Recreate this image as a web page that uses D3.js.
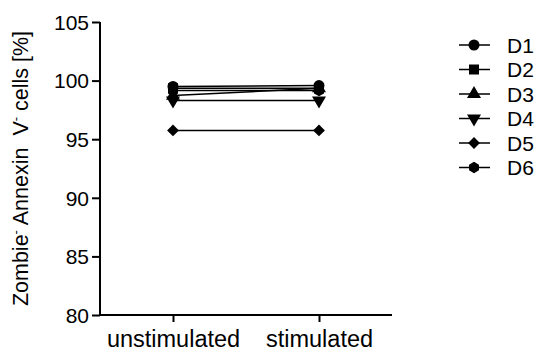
<!DOCTYPE html>
<html><head><meta charset="utf-8">
<script src="https://cdn.jsdelivr.net/npm/d3@7"></script>
<style>body{margin:0;background:#fff}svg{display:block}text{font-family:"Liberation Sans",Arial,sans-serif;fill:#000}</style>
</head><body><svg id="c" width="542" height="354"></svg>
<script>
const categories = ["unstimulated", "stimulated"];
const seriesNames = ["D1", "D2", "D3", "D4", "D5", "D6"];
const D1 = [99.50, 99.58];
const D2 = [99.35, 99.35];
const D3 = [98.72, 99.35];
const D4 = [98.30, 98.30];
const D5 = [95.75, 95.75];
const D6 = [99.15, 99.15];
const seriesValues = [D1, D2, D3, D4, D5, D6];
const yTicks = [80, 85, 90, 95, 100, 105];

const svg = d3.select("#c");
const x = d3.scalePoint().domain(categories).range([100, 392]).padding(0.5);
const y = d3.scaleLinear().domain([80, 105]).range([315, 22]);

const hexagon = { draw(ctx, size) {
  const r = Math.sqrt(size / (1.5 * Math.sqrt(3)));
  for (let i = 0; i < 6; i++) {
    const a = Math.PI / 2 + i * Math.PI / 3;
    const px = r * Math.cos(a), py = r * Math.sin(a);
    if (i === 0) ctx.moveTo(px, py); else ctx.lineTo(px, py);
  }
  ctx.closePath();
}};
const shapes = [
  {type: d3.symbolCircle, size: 95, rot: 0},
  {type: d3.symbolSquare, size: 100, rot: 0},
  {type: d3.symbolTriangle, size: 85, rot: 0},
  {type: d3.symbolTriangle, size: 85, rot: 180},
  {type: d3.symbolSquare, size: 70, rot: 45},
  {type: hexagon, size: 85, rot: 0}
];

// axes
const yAxis = svg.append("g").attr("transform", "translate(100,0)")
  .call(d3.axisLeft(y).tickValues(yTicks).tickSize(8).tickPadding(3).tickFormat(d3.format("d")));
yAxis.select(".domain").attr("stroke-width", 2).attr("d", `M0,${y(105)}V${y(80)+1}`);
yAxis.selectAll(".tick line").attr("stroke-width", 2);
yAxis.selectAll(".tick text").style("font-size", "21px").attr("dy", "0.35em");

const xAxis = svg.append("g").attr("transform", "translate(0,315)")
  .call(d3.axisBottom(x).tickSize(7).tickPadding(8));
xAxis.select(".domain").attr("stroke-width", 2).attr("d", "M99,0H392");
xAxis.selectAll(".tick line").attr("stroke-width", 2);
xAxis.selectAll(".tick text").style("font-size", "23.5px");

// y title
const t = svg.append("text").attr("transform", `translate(28,${(y(80)+y(105))/2}) rotate(-90)`)
  .attr("text-anchor", "middle").style("font-size", "21.5px").style("white-space", "pre");
t.append("tspan").text("Zombie");
t.append("tspan").text("-").attr("dy", -8).style("font-size", "13px");
t.append("tspan").text(" Annexin  V").attr("dy", 8);
t.append("tspan").text("-").attr("dy", -8).style("font-size", "13px");
t.append("tspan").text(" cells [%]").attr("dy", 8);

// lines and markers
const line = d3.line().x((d, i) => x(categories[i])).y(d => y(d));
seriesValues.forEach((vals, s) => {
  svg.append("path").attr("d", line(vals)).attr("fill", "none").attr("stroke", "#000").attr("stroke-width", 1.5);
});
seriesValues.forEach((vals, s) => {
  const sh = shapes[s];
  svg.append("g").selectAll("path").data(vals).join("path")
    .attr("d", d3.symbol().type(sh.type).size(sh.size))
    .attr("transform", (d, i) => `translate(${x(categories[i])},${y(d)}) rotate(${sh.rot})`)
    .attr("fill", "#000");
});

// legend
const lg = svg.append("g").selectAll("g").data(seriesNames).join("g")
  .attr("transform", (d, i) => `translate(0,${45 + i * 24.5})`);
lg.append("line").attr("x1", 459).attr("x2", 490).attr("stroke", "#000").attr("stroke-width", 1.5);
lg.append("path").attr("d", (d, i) => d3.symbol().type(shapes[i].type).size(shapes[i].size)())
  .attr("transform", (d, i) => `translate(474,0) rotate(${shapes[i].rot})`).attr("fill", "#000");
lg.append("text").attr("x", 507).attr("dy", "0.36em").style("font-size", "21px").text(d => d);
</script></body></html>
